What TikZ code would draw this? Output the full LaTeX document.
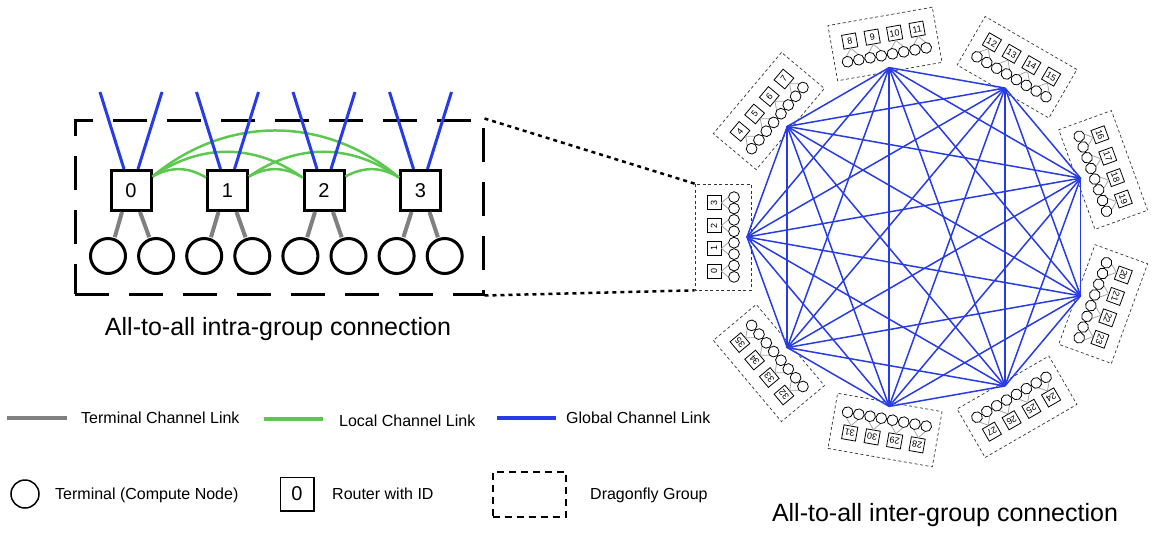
\documentclass[tikz,border=0pt]{standalone}
\usepackage{fontspec}
\setmainfont{Liberation Sans}

\begin{document}
\begin{tikzpicture}[x=1pt, y=1pt]
        \definecolor{lnkgray}{RGB}{128,128,128}
        \definecolor{lnkgreen}{RGB}{92,200,80}
        \definecolor{lnkblue}{RGB}{40,60,230}
        \tikzstyle{every node} = [font=\fontsize{16}{19}\selectfont]
        \tikzstyle{rt}    = [draw, line width=3pt, minimum size=40pt, inner sep=0pt, fill=white, font=\fontsize{20}{24}\selectfont]
        \tikzstyle{tm}    = [circle, draw, line width=3pt, minimum size=35pt, inner sep=0pt]
        \tikzstyle{tlink} = [lnkgray, line width=4pt]
        \tikzstyle{llink} = [lnkgreen, line width=2.5pt]
        \tikzstyle{glink} = [lnkblue, line width=3pt]
        \tikzstyle{bigbox} = [draw, line width=3pt, dash pattern=on 34pt off 20pt, minimum width=408pt, minimum height=174pt, inner sep=0pt]
        \tikzstyle{zoomlink} = [line width=2.5pt, dash pattern=on 4pt off 4pt]
        \tikzstyle{srt}   = [draw, line width=0.8pt, minimum size=14pt, inner sep=0pt, fill=white, font=\fontsize{9}{10}\selectfont]
        \tikzstyle{stm}   = [circle, draw, line width=0.8pt, minimum size=10.8pt, inner sep=0pt]
        \tikzstyle{slink} = [lnkgray!70, line width=0.8pt]
        \tikzstyle{sbox}  = [draw=black!80, line width=0.7pt, dash pattern=on 3pt off 2.5pt, minimum width=106pt, minimum height=56pt, inner sep=0pt]
        \tikzstyle{rlink} = [lnkblue, line width=1.5pt]
        \tikzstyle{title} = [anchor=base, inner sep=0pt, font=\fontsize{25}{30}\selectfont]
        \tikzstyle{lgd}   = [anchor=base west, inner sep=0pt]

        \useasboundingbox (0,0) rectangle (1160,-558);

        \def\rowr{-190.5}
        \def\rowt{-256}
        \def\ctrx{919}
        \def\ctry{-237}
        \def\rad{172}

        \node[bigbox] (lbox) at (279,-207) {};

        \foreach \r in {0,...,3}
            \node[rt] (r\r) at (131+96.5*\r,\rowr) {\r};

        \foreach \k in {0,...,7}
            \node[tm] (t\k) at (108+48.1*\k,\rowt) {};

        \foreach \ga/\gb in {0/1,0/2,0/3,1/2,1/3,2/3} {
            \pgfmathtruncatemacro{\bend}{25+5*(\gb-\ga)}
            \draw[llink] ([yshift=14pt]r\ga.east) to[bend left=\bend] ([yshift=13pt]r\gb.west);
        }

        \foreach \r in {0,...,3} {
            \pgfmathtruncatemacro{\ka}{2*\r}
            \pgfmathtruncatemacro{\kb}{2*\r+1}
            \coordinate (gl\r) at (100+96.5*\r,-92);
            \coordinate (gr\r) at (162+96.5*\r,-92);
            \draw[glink] ([xshift=-7pt]r\r.north) -- (gl\r);
            \draw[glink] ([xshift=7pt]r\r.north) -- (gr\r);
            \draw[tlink, shorten >=1pt] ([xshift=-9pt]r\r.south) -- (t\ka.70);
            \draw[tlink, shorten >=1pt] ([xshift=9pt]r\r.south) -- (t\kb.110);
        }

        \node[title] (ltitle) at (278,-335) {All-to-all intra-group connection};

        \foreach \g in {0,...,8} {
            \pgfmathsetmacro{\ang}{180-40*\g}
            \begin{scope}[shift={(\ctrx,\ctry)}, rotate=\ang-90, transform shape]
                \node[sbox] (grp\g) at (0,196) {};
                \coordinate (v\g) at (0,\rad);
                \foreach \k in {0,...,7}
                    \node[stm] (st\g-\k) at (-39.9+11.4*\k,185) {};
                \foreach \j in {0,...,3} {
                    \pgfmathtruncatemacro{\id}{4*\g+\j}
                    \pgfmathtruncatemacro{\ka}{2*\j}
                    \pgfmathtruncatemacro{\kb}{2*\j+1}
                    \node[srt] (sr\id) at (-34.2+22.8*\j,205) {\id};
                    \draw[slink] (sr\id.south) -- (st\g-\ka.north);
                    \draw[slink] (sr\id.south) -- (st\g-\kb.north);
                }
            \end{scope}
        }

        \foreach \ga in {0,...,7} {
            \pgfmathtruncatemacro{\nxt}{\ga+1}
            \foreach \gb in {\nxt,...,8}
                \draw[rlink] (v\ga) -- (v\gb);
        }

        \draw[zoomlink] (lbox.north east) -- (grp0.north east);
        \draw[zoomlink] (lbox.south east) -- (grp0.north west);

        \node[title] (rtitle) at (945,-521) {All-to-all inter-group connection};

        \coordinate (la0) at (7,-418);   \coordinate (la1) at (67,-418);
        \coordinate (lb0) at (264,-419); \coordinate (lb1) at (323,-419);
        \coordinate (lc0) at (497,-418); \coordinate (lc1) at (556,-418);
        \draw[tlink] (la0) -- (la1);
        \draw[llink, line width=3.5pt] (lb0) -- (lb1);
        \draw[glink, line width=3.5pt] (lc0) -- (lc1);
        \node[lgd] (lgta) at (81,-423.7) {Terminal Channel Link};
        \node[lgd] (lgtb) at (339,-426.7) {Local Channel Link};
        \node[lgd] (lgtc) at (566,-423.7) {Global Channel Link};

        \node[tm, line width=1.5pt, minimum size=28pt] (lgterm) at (25,-494) {};
        \node[lgd] (lgtd) at (55,-499.7) {Terminal (Compute Node)};
        \node[rt, line width=1.5pt, minimum size=33.5pt] (lgrt) at (297,-494) {0};
        \node[lgd] (lgte) at (332,-499.7) {Router with ID};
        \node[draw, line width=2pt, dash pattern=on 7pt off 5pt, minimum width=73pt, minimum height=45pt] (lggrp) at (529,-494) {};
        \node[lgd] (lgtf) at (590,-499.7) {Dragonfly Group};
    \end{tikzpicture}
\end{document}
